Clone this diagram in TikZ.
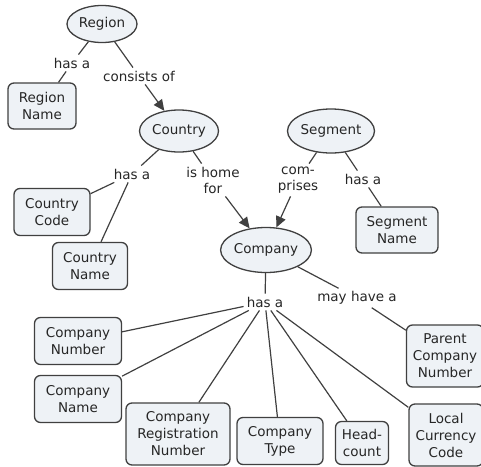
\documentclass[tikz,border=0pt]{standalone}
\usepackage{fontspec}
\setmainfont{DejaVu Sans}
\usetikzlibrary{shapes.geometric,arrows.meta}
\definecolor{nfill}{HTML}{EEF2F6}
\definecolor{nline}{HTML}{404040}
\definecolor{ntext}{HTML}{262626}
\tikzset{
  concept/.style={ellipse,draw=nline,fill=nfill,line width=1.3pt,inner sep=0pt,text=ntext,font=\fontsize{13.5}{17}\selectfont},
  attr/.style={rectangle,rounded corners=6pt,draw=nline,fill=nfill,line width=1.3pt,inner sep=0pt,align=center,text=ntext,font=\fontsize{13.5}{17}\selectfont},
  lab/.style={inner sep=3pt,align=center,text=ntext,font=\fontsize{13.5}{16}\selectfont},
  conn/.style={draw=nline,line width=1.2pt},
  arr/.style={conn,-{Triangle[length=11pt,width=10pt]}}
}
\begin{document}
\begin{tikzpicture}[x=1pt,y=-1pt]
\useasboundingbox (0,0) rectangle (481,466);
% concepts
\node[concept,minimum width=70pt,minimum height=37pt] (region) at (102,24) {Region};
\node[concept,minimum width=79pt,minimum height=42pt] (country) at (179,131) {Country};
\node[concept,minimum width=87pt,minimum height=44pt] (segment) at (331,131) {Segment};
\node[concept,minimum width=88pt,minimum height=45pt] (company) at (266,250) {Company};
% attributes
\node[attr,minimum width=68pt,minimum height=46pt] (rname) at (42,106) {Region\\Name};
\node[attr,minimum width=76pt,minimum height=47pt] (ccode) at (52,212) {Country\\Code};
\node[attr,minimum width=75pt,minimum height=47pt] (cname) at (90,266) {Country\\Name};
\node[attr,minimum width=82pt,minimum height=46pt] (sname) at (397,230) {Segment\\Name};
\node[attr,minimum width=87pt,minimum height=47pt] (conum) at (78,341) {Company\\Number};
\node[attr,minimum width=87pt,minimum height=47pt] (coname) at (78,399) {Company\\Name};
\node[attr,minimum width=104pt,minimum height=62pt] (coreg) at (178,434) {Company\\Registration\\Number};
\node[attr,minimum width=86pt,minimum height=47pt] (cotype) at (280,441) {Company\\Type};
\node[attr,minimum width=53pt,minimum height=43pt] (head) at (362,443) {Head-\\count};
\node[attr,minimum width=74pt,minimum height=62pt] (lcc) at (446,435) {Local\\Currency\\Code};
\node[attr,minimum width=77pt,minimum height=62pt] (parent) at (445,356) {Parent\\Company\\Number};
% linking phrases
\node[lab] (l1) at (72,63) {has a};
\node[lab] (l2) at (139,76) {consists of};
\node[lab] (l3) at (132,174) {has a};
\node[lab] (l4) at (213,180) {is home\\for};
\node[lab] (l5) at (298,180) {com-\\prises};
\node[lab] (l6) at (363,179) {has a};
\node[lab] (l7) at (265,302) {has a};
\node[lab] (l8) at (357,298) {may have a};
% connectors
\draw[conn] (region) -- (l1);
\draw[conn] (l1) -- (rname);
\draw[conn] (region) -- (l2);
\draw[arr] (l2) -- (country);
\draw[conn] (country) -- (l3);
\draw[conn] (l3) -- (ccode);
\draw[conn] (l3) -- (cname);
\draw[conn] (country) -- (l4);
\draw[arr] (l4) -- (company);
\draw[conn] (segment) -- (l5);
\draw[arr] (l5) -- (company);
\draw[conn] (segment) -- (l6);
\draw[conn] (l6) -- (sname);
\draw[conn] (company) -- (l7);
\draw[conn] (company) -- (l8);
\draw[conn] (l8) -- (parent);
\draw[conn] (l7) -- (conum);
\draw[conn] (l7) -- (coname);
\draw[conn] (l7) -- (coreg);
\draw[conn] (l7) -- (cotype);
\draw[conn] (l7) -- (head);
\draw[conn] (l7) -- (lcc);
\end{tikzpicture}
\end{document}
